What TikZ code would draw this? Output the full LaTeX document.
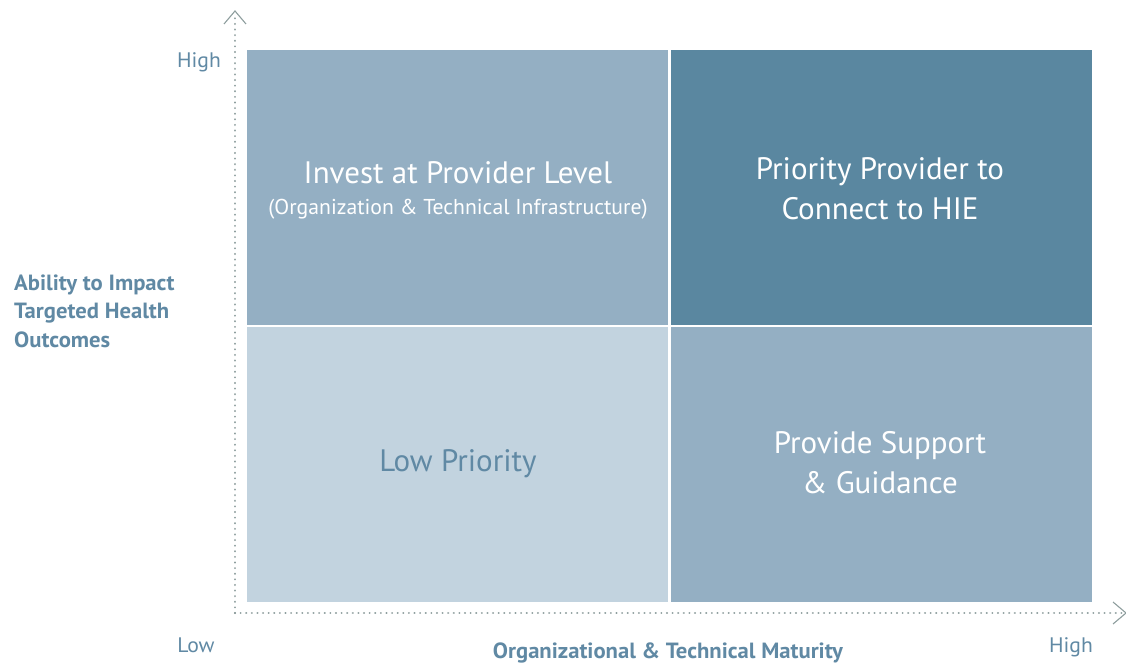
\documentclass[tikz,border=0pt]{standalone}
\usepackage{fontspec}
\setmainfont{PT Sans}
\newfontfamily\subfont{PT Sans}[FakeStretch=1.01]
\newfontfamily\labfont{PT Sans}[FakeStretch=1.03]
\usetikzlibrary{positioning}
\definecolor{midblue}{HTML}{94AFC3}
\definecolor{darkblue}{HTML}{5A87A0}
\definecolor{lightblue}{HTML}{C2D3DF}
\definecolor{labblue}{HTML}{6089A4}
\definecolor{axisgray}{HTML}{8E9E9E}
\begin{document}
\begin{tikzpicture}[x=1pt,y=-1pt,
  boxtext/.style={font=\fontsize{31}{40}\selectfont,align=center,text=white,inner sep=0pt},
  subtext/.style={font=\subfont\fontsize{21.5}{24}\selectfont,text=white,inner sep=0pt},
  axislab/.style={font=\labfont\fontsize{21}{24}\selectfont,text=labblue,inner sep=0pt},
  titlelab/.style={font=\labfont\bfseries\fontsize{22}{28.5}\selectfont,text=labblue,inner sep=0pt},
  axisline/.style={axisgray,line width=2.2pt,line cap=round,dash pattern=on 0.01pt off 5.6pt},
  chev/.style={axisgray,line width=1.1pt}]
\useasboundingbox[fill=white] (0,0) rectangle (1126,668);
% quadrants
\fill[midblue] (247,50) rectangle (668,325);
\fill[darkblue] (671,50) rectangle (1092,325);
\fill[lightblue] (247,327) rectangle (668,602);
\fill[midblue] (671,327) rectangle (1092,602);
% axes
\coordinate (origin) at (235,613);
\coordinate (ytop) at (235,15);
\coordinate (xend) at (1122,613);
\draw[axisline] (origin) -- (ytop);
\draw[axisline] (origin) -- (xend);
\draw[chev] (224,24) -- (235,11) -- (246,24);
\draw[chev] (1113,602) -- (1126,613) -- (1113,624);
% quadrant texts
\node[boxtext] (tl) at (458,173) {Invest at Provider Level};
\node[subtext] (tlsub) at (458,209) {(Organization \& Technical Infrastructure)};
\node[boxtext] (tr) at (880,189) {Priority Provider to\\Connect to HIE};
\node[boxtext,text=labblue] (bl) at (458,464) {Low Priority};
\node[boxtext] (br) at (880,463) {Provide Support\\\& Guidance};
% axis labels
\node[axislab] (yhigh) at (199,62) {High};
\node[axislab] (xlow) at (196,645) {Low};
\node[axislab] (xhigh) at (1071,647) {High};
\node[titlelab,align=left,anchor=west] (ylab) at (14,311) {Ability to Impact\\Targeted Health\\Outcomes};
\node[titlelab] (xlab) at (668,653) {Organizational \& Technical Maturity};
\end{tikzpicture}
\end{document}
